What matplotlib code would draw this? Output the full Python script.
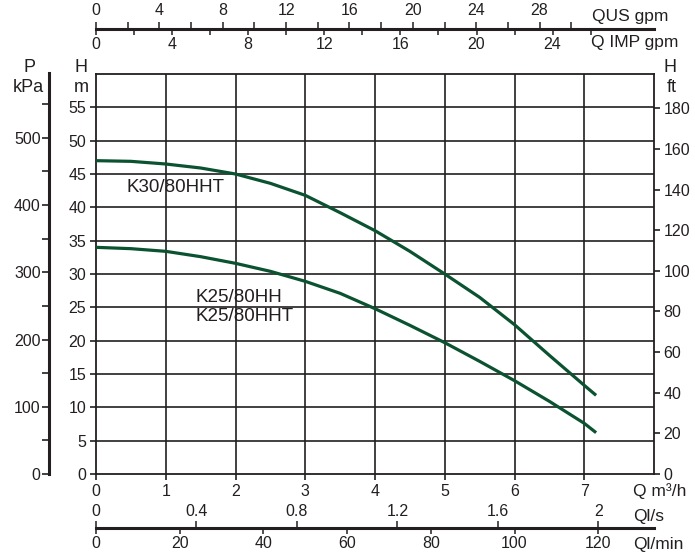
import matplotlib
matplotlib.use("Agg")
import matplotlib.pyplot as plt

# ---- data ----
q_m3h = [0, 0.5, 1, 1.5, 2, 2.5, 3, 3.5, 4, 4.5, 5, 5.5, 6, 6.5, 7, 7.17]
h_k30 = [47.0, 46.9, 46.5, 45.9, 45.0, 43.6, 41.8, 39.2, 36.5, 33.4, 30.0, 26.5, 22.4, 17.8, 13.3, 11.8]
h_k25 = [34.0, 33.8, 33.4, 32.6, 31.6, 30.4, 28.9, 27.1, 24.8, 22.3, 19.7, 16.9, 14.0, 10.9, 7.6, 6.2]
label_k30 = "K30/80HHT"
label_k25 = "K25/80HH\nK25/80HHT"

x_ticks = [0, 1, 2, 3, 4, 5, 6, 7]
h_m_ticks = [0, 5, 10, 15, 20, 25, 30, 35, 40, 45, 50, 55]
h_ft_ticks = [0, 20, 40, 60, 80, 100, 120, 140, 160, 180]
p_kpa_ticks = [0, 100, 200, 300, 400, 500]
p_kpa_minor = [50, 150, 250, 350, 450, 550]
us_gpm_ticks = [0, 4, 8, 12, 16, 20, 24, 28]
us_gpm_minor = [2, 6, 10, 14, 18, 22, 26, 30]
imp_gpm_ticks = [0, 4, 8, 12, 16, 20, 24]
imp_gpm_minor = [2, 6, 10, 14, 18, 22, 26]
ls_ticks = [0, 0.4, 0.8, 1.2, 1.6, 2]
ls_labels = ["0", "0.4", "0.8", "1.2", "1.6", "2"]
lmin_ticks = [0, 20, 40, 60, 80, 100, 120]

XMAX = 8.0
YMAX = 60.0
M_TO_FT = 3.28084
M3H_TO_USGPM = 4.4029
M3H_TO_IMPGPM = 3.6662
M3H_TO_LS = 1 / 3.6
M3H_TO_LMIN = 1000 / 60
M_PER_100KPA = 10.06

FONT = ['Liberation Sans', 'DejaVu Sans']
NUM_FS = 11.5
LBL_FS = 13
INK = '#231f20'
GREEN = '#0b5330'

W, H = 695, 553
fig = plt.figure(figsize=(W / 100, H / 100), dpi=100)

def rect(x0, y0, x1, y1):
    return [x0 / W, 1 - y1 / H, (x1 - x0) / W, (y1 - y0) / H]

X0, X1, YT, YB = 96, 654, 74, 474
ax = fig.add_axes(rect(X0, YT, X1, YB))
ax.set_xlim(0, XMAX)
ax.set_ylim(0, YMAX)
for s in ax.spines.values():
    s.set_color(INK)
    s.set_linewidth(1.3)
for v in x_ticks[1:]:
    ax.axvline(v, color=INK, lw=1.2, zorder=1)
for v in h_m_ticks[1:]:
    ax.axhline(v, color=INK, lw=1.2, zorder=1)
ax.set_xticks(x_ticks)
ax.set_xticklabels([str(v) for v in x_ticks], fontfamily=FONT, fontsize=NUM_FS, color=INK)
ax.set_yticks(h_m_ticks)
ax.set_yticklabels([str(v) for v in h_m_ticks], fontfamily=FONT, fontsize=NUM_FS, color=INK)
ax.tick_params(axis='both', direction='out', length=4, width=1.2, color=INK, pad=3)

ax.plot(q_m3h, h_k30, color=GREEN, lw=2.3, zorder=3, solid_capstyle='butt', solid_joinstyle='round')
ax.plot(q_m3h, h_k25, color=GREEN, lw=2.3, zorder=3, solid_capstyle='butt', solid_joinstyle='round')
ax.text(0.44, 43.0, label_k30, fontfamily=FONT, fontsize=13.5, color=INK, va='center', ha='left')
ax.text(1.43, 25.0, label_k25, fontfamily=FONT, fontsize=13.5, color=INK, va='center', ha='left', linespacing=1.15)

# right ft axis
axr = ax.twinx()
axr.set_ylim(0, YMAX * M_TO_FT)
axr.set_yticks(h_ft_ticks)
axr.set_yticklabels([str(v) for v in h_ft_ticks], fontfamily=FONT, fontsize=NUM_FS, color=INK)
axr.tick_params(axis='y', direction='out', length=4, width=1.2, color=INK, pad=3)
for s in axr.spines.values():
    s.set_visible(False)

# left kPa axis
axp = fig.add_axes(rect(49, YT - 1, 60, YB))
axp.set_ylim(0, YMAX / M_PER_100KPA * 100)
axp.set_xlim(0, 1)
for k in ['top', 'right', 'bottom']:
    axp.spines[k].set_visible(False)
axp.spines['left'].set_linewidth(2.2)
axp.spines['left'].set_color(INK)
axp.patch.set_visible(False)
axp.set_xticks([])
axp.set_yticks(p_kpa_ticks)
axp.set_yticks(p_kpa_minor, minor=True)
axp.set_yticklabels([str(v) for v in p_kpa_ticks], fontfamily=FONT, fontsize=NUM_FS, color=INK)
axp.tick_params(axis='y', which='both', direction='out', length=5, width=1.2, color=INK, pad=1)

# axis titles
def ftext(x, y, s, ha='center', fs=LBL_FS):
    fig.text(x / W, 1 - y / H, s, fontfamily=FONT, fontsize=fs, color=INK, ha=ha, va='center')

ftext(29, 68, "P")
ftext(28, 87, "kPa")
ftext(81, 68, "H")
ftext(81, 87, "m")
ftext(670, 68, "H")
ftext(672, 87, "ft")
ftext(633, 491, "Q m³/h", ha='left', fs=12.5)

# top gpm axes
axt = fig.add_axes(rect(X0, 28, X1, 30))
axt.patch.set_visible(False)
for k in ['top', 'right', 'left']:
    axt.spines[k].set_visible(False)
axt.spines['bottom'].set_linewidth(2.2)
axt.spines['bottom'].set_color(INK)
axt.spines['bottom'].set_position(('axes', 0.5))
axt.set_yticks([])
axt.set_xlim(0, XMAX * M3H_TO_IMPGPM)
axt.set_xticks(imp_gpm_ticks)
axt.set_xticks(imp_gpm_minor, minor=True)
axt.set_xticklabels([str(v) for v in imp_gpm_ticks], fontfamily=FONT, fontsize=NUM_FS, color=INK)
axt.tick_params(axis='x', which='both', direction='out', length=4, width=1.1, color=INK, pad=2)
axt2 = axt.twiny()
for s in axt2.spines.values():
    s.set_visible(False)
axt2.set_xlim(0, XMAX * M3H_TO_USGPM)
axt2.set_xticks(us_gpm_ticks)
axt2.set_xticks(us_gpm_minor, minor=True)
axt2.set_xticklabels([str(v) for v in us_gpm_ticks], fontfamily=FONT, fontsize=NUM_FS, color=INK)
axt2.tick_params(axis='x', which='both', direction='out', length=4, width=1.1, color=INK, pad=3)
ftext(592, 16, "QUS gpm", ha='left', fs=12.5)
ftext(591, 43, "Q IMP gpm", ha='left', fs=12.5)

# bottom l/s, l/min axes
axb = fig.add_axes(rect(X0, 527, X1, 529))
axb.patch.set_visible(False)
for k in ['top', 'right', 'left']:
    axb.spines[k].set_visible(False)
axb.spines['bottom'].set_linewidth(2.2)
axb.spines['bottom'].set_color(INK)
axb.spines['bottom'].set_position(('axes', 0.5))
axb.set_yticks([])
axb.set_xlim(0, XMAX * M3H_TO_LMIN)
axb.set_xticks(lmin_ticks)
axb.set_xticklabels([str(v) for v in lmin_ticks], fontfamily=FONT, fontsize=NUM_FS, color=INK)
axb.tick_params(axis='x', direction='out', length=4, width=1.1, color=INK, pad=2)
axb2 = axb.twiny()
for s in axb2.spines.values():
    s.set_visible(False)
axb2.set_xlim(0, XMAX * M3H_TO_LS)
axb2.set_xticks(ls_ticks)
axb2.set_xticklabels(ls_labels, fontfamily=FONT, fontsize=NUM_FS, color=INK)
axb2.tick_params(axis='x', direction='out', length=4, width=1.1, color=INK, pad=2)
ftext(633, 517, "Ql/s", ha='left', fs=12.5)
ftext(633, 544, "Ql/min", ha='left', fs=12.5)

fig.savefig("out.png", dpi=100)
